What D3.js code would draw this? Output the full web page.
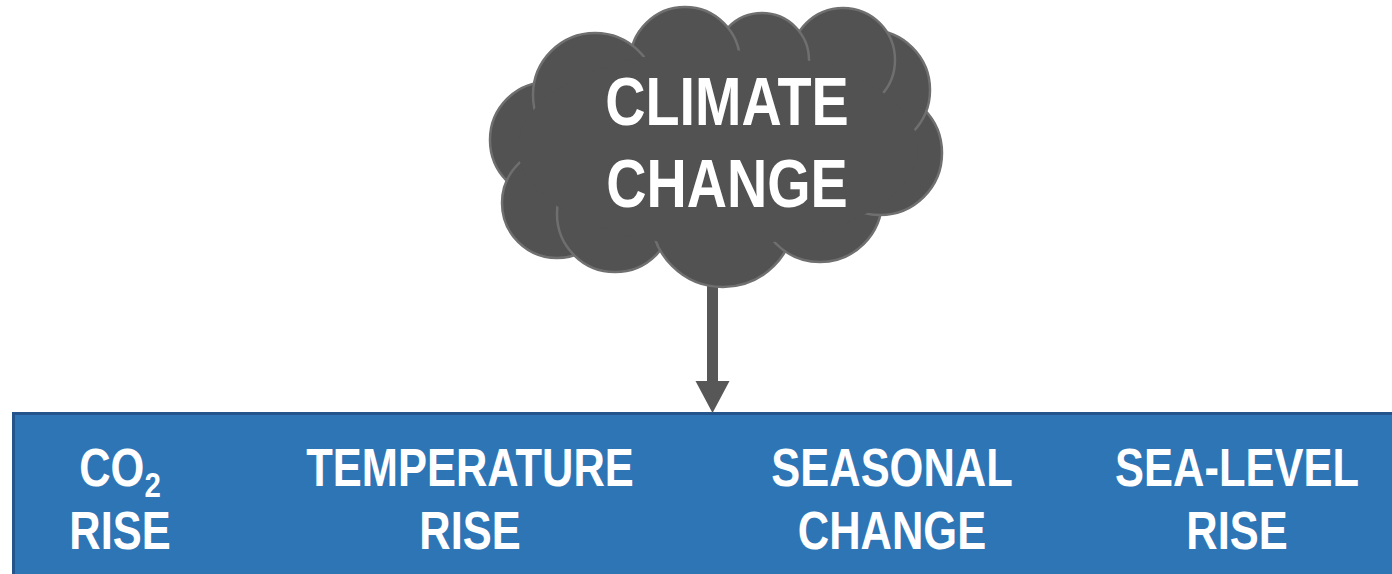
<!DOCTYPE html>
<html>
<head>
<meta charset="utf-8">
<script src="https://cdn.jsdelivr.net/npm/d3@7"></script>
<style>
  html, body { margin: 0; padding: 0; background: #fff; }
  svg { display: block; }
</style>
</head>
<body>
<div id="chart"></div>
<script>
// title in the cloud, one entry per line
const titleLines = ["CLIMATE", "CHANGE"];
// impacts along the bar; "_" marks a subscript
const impacts = ["CO_2 RISE", "TEMPERATURE RISE", "SEASONAL CHANGE", "SEA-LEVEL RISE"];
const impactLines = [["CO_2", "RISE"], ["TEMPERATURE", "RISE"], ["SEASONAL", "CHANGE"], ["SEA-LEVEL", "RISE"]];

// cloud lobes [cx, cy, r]
const cloudLobes = [
  [548, 140, 58], [557, 203, 55], [615, 214, 58], [723, 215, 72],
  [820, 200, 62], [880, 153, 62], [870, 90, 60], [843, 60, 52],
  [762, 60, 47], [685, 62, 55], [595, 95, 62]
];

const width = 1392, height = 574;
// no narrow face installed, so squeeze Liberation Sans horizontally
const font = "'Liberation Sans Narrow', 'Arial Narrow', 'Liberation Sans', sans-serif";
const squeeze = 0.82;

const svg = d3.select("#chart").append("svg")
  .attr("width", width).attr("height", height);

// blue bar
const barTop = 413.5, barLeft = 13.5;
svg.append("rect")
  .attr("x", barLeft).attr("y", barTop)
  .attr("width", width).attr("height", 200)
  .attr("fill", "#2e75b6")
  .attr("stroke", "#23558c").attr("stroke-width", 3);

// arrow from cloud to bar
const arrowX = 712.5;
svg.append("rect")
  .attr("x", arrowX - 5.5).attr("y", 280)
  .attr("width", 11).attr("height", 105)
  .attr("fill", "#575757");
svg.append("path")
  .attr("d", d3.line()([[arrowX - 17, 381], [arrowX + 17, 381], [arrowX, 413]]))
  .attr("fill", "#575757");

// cloud
const cloud = svg.append("g");
cloud.selectAll("circle.lobe")
  .data(cloudLobes)
  .join("circle")
  .attr("class", "lobe")
  .attr("cx", d => d[0]).attr("cy", d => d[1]).attr("r", d => d[2])
  .attr("fill", "#525252")
  .attr("stroke", "#6f6f6f").attr("stroke-width", 2.5);
cloud.append("ellipse")
  .attr("cx", 718).attr("cy", 148).attr("rx", 200).attr("ry", 98)
  .attr("fill", "#525252");

cloud.selectAll("text")
  .data(titleLines)
  .join("text")
  .attr("transform", (d, i) => `translate(727,${125 + i * 82}) scale(${squeeze},1)`)
  .attr("text-anchor", "middle")
  .attr("fill", "#fff")
  .attr("font-family", font)
  .attr("font-weight", "bold")
  .attr("font-size", 68)
  .text(d => d);

// impact labels
const labelX = d3.scaleOrdinal().domain(impacts).range([120, 470, 892, 1237]);

const labels = svg.selectAll("g.impact")
  .data(impacts)
  .join("g")
  .attr("class", "impact")
  .attr("transform", d => `translate(${labelX(d)},0)`);

labels.each(function (d, i) {
  const g = d3.select(this);
  impactLines[i].forEach((line, j) => {
    const t = g.append("text")
      .attr("transform", `translate(0,${486 + j * 63}) scale(${squeeze},1)`)
      .attr("text-anchor", "middle")
      .attr("fill", "#fff")
      .attr("font-family", font)
      .attr("font-weight", "bold")
      .attr("font-size", 53);
    const parts = line.split("_");
    t.append("tspan").text(parts[0]);
    if (parts[1]) {
      t.append("tspan")
        .attr("dy", 11)
        .attr("font-size", 36)
        .text(parts[1]);
    }
  });
});
</script>
</body>
</html>
